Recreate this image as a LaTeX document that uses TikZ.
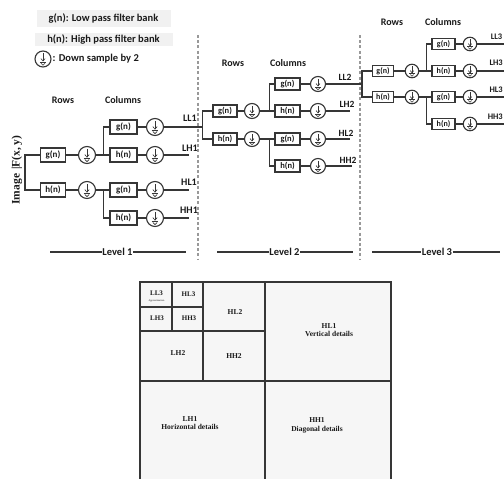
\documentclass[tikz,border=0pt]{standalone}
\usepackage{fontspec}
\setmainfont{Liberation Serif}
\newfontfamily\carl{Carlito}
\usetikzlibrary{calc}
\definecolor{ink}{HTML}{363636}
\definecolor{txt}{HTML}{1A1A1A}
\tikzset{
  ln/.style={draw=ink, line width=1.2pt},
  fb/.style={draw=ink, line width=1.2pt, fill=white, inner sep=0pt, text=txt,
     minimum width=#1, font=\carl\bfseries\fontsize{9}{9}\selectfont},
  fbh/.style={minimum height=#1},
  ds/.style={circle, draw=ink, line width=1.1pt, fill=white, inner sep=0pt, minimum size=#1,
     path picture={\begin{scope}[shift={(path picture bounding box.center)}, x=#1/20, y=-#1/20]
        \draw[line width=0.6pt, ink] (0,-7) -- (0,2.5);
        \draw[line width=0.6pt, ink] (-2.6,-0.5) -- (0,2.5) -- (2.6,-0.5);
        \draw[line width=0.6pt, ink] (-4,3.8) -- (4,3.8);
        \draw[line width=0.55pt, ink] (-2.5,5.3) -- (0,7.8) -- (2.5,5.3);
     \end{scope}}},
  lab/.style={font=\carl\bfseries\fontsize{10}{10}\selectfont, text=txt, inner sep=0pt},
  lab2/.style={font=\carl\bfseries\fontsize{9.5}{9.5}\selectfont, text=txt, inner sep=0pt},
  lab3/.style={font=\carl\bfseries\fontsize{8.5}{8.5}\selectfont, text=txt, inner sep=0pt, anchor=east},
  hdr/.style={font=\carl\bfseries\fontsize{10}{10}\selectfont, text=txt, inner sep=0pt},
  lvl/.style={font=\carl\bfseries\fontsize{10.5}{10.5}\selectfont, text=txt, inner sep=0.5pt},
  sep/.style={draw=gray!80, line width=1.1pt, dash pattern=on 3pt off 2.2pt},
  grid/.style={draw=ink, line width=2pt},
  cell/.style={font=\bfseries\fontsize{7.5}{8.5}\selectfont, text=txt, inner sep=0pt, align=center},
  leg/.style={fill=gray!11, font=\carl\bfseries\fontsize{10.5}{10.5}\selectfont, text=txt, inner sep=0pt},
}
\begin{document}
\begin{tikzpicture}[x=1pt, y=-1pt]
\useasboundingbox (0,0) rectangle (504,479);
\clip (0,0) rectangle (504,479);

% ---------- legend ----------
\node[leg, minimum width=134, minimum height=17] (lg) at (103.5,18.5) {g(n): Low pass filter bank};
\node[leg, minimum width=138, minimum height=13] (lh) at (103.5,39) {h(n): High pass filter bank};
\node[ds=16pt] (lds) at (43,59) {};
\node[lab, anchor=west, font=\carl\bfseries\fontsize{10.5}{10.5}\selectfont] (ldt) at (52.5,59) {: Down sample by 2};

% ---------- separators ----------
\coordinate (sa1) at (198,35); \coordinate (sa2) at (198,260);
\coordinate (sb1) at (360,35); \coordinate (sb2) at (360,260);
\draw[sep] (sa1) -- (sa2);
\draw[sep] (sb1) -- (sb2);

% ---------- level 1 ----------
\node[hdr] (rw1) at (63,100) {Rows};
\node[hdr] (cl1) at (123,100) {Columns};
\node[rotate=90, font=\bfseries\fontsize{11.5}{12}\selectfont, text=txt, inner sep=0pt] (img) at (17,170) {Image\,\,|F(x, y)};

\node[fb=25pt, fbh=14pt] (r1g) at (53,155) {g(n)};
\node[fb=25pt, fbh=14pt] (r1h) at (53,190) {h(n)};
\node[ds=17pt] (r1gd) at (87,155) {};
\node[ds=17pt] (r1hd) at (87,190) {};
\node[fb=27pt, fbh=14pt] (c1gg) at (123.5,127) {g(n)};
\node[fb=27pt, fbh=14pt] (c1gh) at (123.5,155) {h(n)};
\node[fb=27pt, fbh=14pt] (c1hg) at (123.5,190) {g(n)};
\node[fb=27pt, fbh=14pt] (c1hh) at (123.5,218) {h(n)};
\node[ds=17pt] (d1LL) at (155,127) {};
\node[ds=17pt] (d1LH) at (155,155) {};
\node[ds=17pt] (d1HL) at (155,190) {};
\node[ds=17pt] (d1HH) at (155,218) {};

\draw[ln] (r1g.west) -- ++(-15,0) |- (r1h.west);
\draw[ln] (r1g) -- (r1gd);
\draw[ln] (r1h) -- (r1hd);
\draw[ln] (r1gd) -- (c1gh);
\draw[ln] (c1gg.west) -- ++(-6,0) |- (r1gd.east);
\draw[ln] (r1hd) -- (c1hg);
\draw[ln] (c1hh.west) -- ++(-6,0) |- (r1hd.east);
\draw[ln] (c1gg) -- (d1LL);
\draw[ln] (c1gh) -- (d1LH);
\draw[ln] (c1hg) -- (d1HL);
\draw[ln] (c1hh) -- (d1HH);

\coordinate (e1LH) at (189,155);
\coordinate (e1HL) at (189,190);
\coordinate (e1HH) at (189,218);
\draw[ln] (d1LH) -- (e1LH);
\draw[ln] (d1HL) -- (e1HL);
\draw[ln] (d1HH) -- (e1HH);
\node[lab] (t1LL) at (190,118) {LL1};
\node[lab] (t1LH) at (190,148) {LH1};
\node[lab] (t1HL) at (189,182) {HL1};
\node[lab] (t1HH) at (189,210) {HH1};

% ---------- level 2 ----------
\node[hdr] (rw2) at (233,63) {Rows};
\node[hdr] (cl2) at (288,63) {Columns};
\tikzset{fb2/.style={fb=#1, fbh=12pt, font=\carl\bfseries\fontsize{8.5}{8.5}\selectfont}}
\node[fb2=24pt] (r2g) at (225,111) {g(n)};
\node[fb2=24pt] (r2h) at (225,139) {h(n)};
\node[ds=15pt] (r2gd) at (252,111) {};
\node[ds=15pt] (r2hd) at (252,139) {};
\node[fb2=25pt] (c2gg) at (287.5,84) {g(n)};
\node[fb2=25pt] (c2gh) at (287.5,111) {h(n)};
\node[fb2=25pt] (c2hg) at (287.5,139) {g(n)};
\node[fb2=25pt] (c2hh) at (287.5,166) {h(n)};
\node[ds=15pt] (d2LL) at (318,84) {};
\node[ds=15pt] (d2LH) at (318,111) {};
\node[ds=15pt] (d2HL) at (318,139) {};
\node[ds=15pt] (d2HH) at (318,166) {};

\coordinate (s2) at (203,127);
\draw[ln] (d1LL) -- (s2);
\draw[ln] (r2g.west) -- ++(-10,0) |- (r2h.west);
\draw[ln] (r2g) -- (r2gd);
\draw[ln] (r2h) -- (r2hd);
\draw[ln] (r2gd) -- (c2gh);
\draw[ln] (c2gg.west) -- ++(-5,0) |- (r2gd.east);
\draw[ln] (r2hd) -- (c2hg);
\draw[ln] (c2hh.west) -- ++(-5,0) |- (r2hd.east);
\draw[ln] (c2gg) -- (d2LL);
\draw[ln] (c2gh) -- (d2LH);
\draw[ln] (c2hg) -- (d2HL);
\draw[ln] (c2hh) -- (d2HH);

\coordinate (e2LH) at (350,111);
\coordinate (e2HL) at (350,139);
\coordinate (e2HH) at (352,166);
\draw[ln] (d2LH) -- (e2LH);
\draw[ln] (d2HL) -- (e2HL);
\draw[ln] (d2HH) -- (e2HH);
\node[lab2] (t2LL) at (345,77) {LL2};
\node[lab2] (t2LH) at (347,104) {LH2};
\node[lab2] (t2HL) at (346,133) {HL2};
\node[lab2] (t2HH) at (348,160) {HH2};

% ---------- level 3 ----------
\node[hdr] (rw3) at (392,22) {Rows};
\node[hdr] (cl3) at (443,22) {Columns};
\tikzset{fb3/.style={fb=#1, fbh=11.5pt, font=\carl\bfseries\fontsize{8}{8}\selectfont}}
\node[fb3=21pt] (r3g) at (383,71) {g(n)};
\node[fb3=21pt] (r3h) at (383,97) {h(n)};
\node[ds=13.5pt] (r3gd) at (412,71) {};
\node[ds=13.5pt] (r3hd) at (412,97) {};
\node[fb3=23pt] (c3gg) at (443.5,44) {g(n)};
\node[fb3=23pt] (c3gh) at (443.5,71) {h(n)};
\node[fb3=23pt] (c3hg) at (443.5,97) {g(n)};
\node[fb3=23pt] (c3hh) at (443.5,124) {h(n)};
\node[ds=13.5pt] (d3LL) at (470,44) {};
\node[ds=13.5pt] (d3LH) at (470,71) {};
\node[ds=13.5pt] (d3HL) at (470,97) {};
\node[ds=13.5pt] (d3HH) at (470,124) {};

\coordinate (s3) at (363,84);
\draw[ln] (d2LL) -- (s3);
\draw[ln] (r3g.west) -- ++(-10,0) |- (r3h.west);
\draw[ln] (r3g) -- (r3gd);
\draw[ln] (r3h) -- (r3hd);
\draw[ln] (r3gd) -- (c3gh);
\draw[ln] (c3gg.west) -- ++(-5,0) |- (r3gd.east);
\draw[ln] (r3hd) -- (c3hg);
\draw[ln] (c3hh.west) -- ++(-5,0) |- (r3hd.east);
\draw[ln] (c3gg) -- (d3LL);
\draw[ln] (c3gh) -- (d3LH);
\draw[ln] (c3hg) -- (d3HL);
\draw[ln] (c3hh) -- (d3HH);

\coordinate (e3LL) at (506,44);
\coordinate (e3LH) at (506,71);
\coordinate (e3HL) at (506,97);
\coordinate (e3HH) at (506,124);
\draw[ln] (d3LL) -- (e3LL);
\draw[ln] (d3LH) -- (e3LH);
\draw[ln] (d3HL) -- (e3HL);
\draw[ln] (d3HH) -- (e3HH);
\node[lab3] (t3LL) at (502.5,37) {LL3};
\node[lab3] (t3LH) at (503,63) {LH3};
\node[lab3] (t3HL) at (503,90) {HL3};
\node[lab3] (t3HH) at (503,117) {HH3};

% ---------- level bars ----------
\coordinate (l1a) at (50,252); \coordinate (l1b) at (186,252);
\node[lvl] (lv1) at (117.5,252) {Level 1};
\draw[ln] (l1a) -- (lv1) -- (l1b);
\coordinate (l2a) at (217,252); \coordinate (l2b) at (353,252);
\node[lvl] (lv2) at (284.5,252) {Level 2};
\draw[ln] (l2a) -- (lv2) -- (l2b);
\coordinate (l3a) at (372,252); \coordinate (l3b) at (500,252);
\node[lvl] (lv3) at (437,252) {Level 3};
\draw[ln] (l3a) -- (lv3) -- (l3b);

% ---------- subband layout ----------
\fill[gray!7] (140,282) rectangle (391,485);
\draw[grid] (140,485) -- (140,282) -- (391,282) -- (391,485);
\draw[grid] (265,282) -- (265,485);
\draw[grid] (140,381) -- (391,381);
\draw[grid] (203,282) -- (203,381);
\draw[grid] (140,331) -- (265,331);
\draw[grid] (172,282) -- (172,331);
\draw[grid] (140,307) -- (203,307);

\node[cell, font=\bfseries\fontsize{7}{7}\selectfont] (bLL3) at (156.5,293) {LL3};
\node[cell, font=\fontsize{2.6}{3}\selectfont] (bAp) at (156.5,300.5) {Approximation};
\node[cell, font=\bfseries\fontsize{7}{7}\selectfont] (bHL3) at (188.5,294) {HL3};
\node[cell, font=\bfseries\fontsize{7}{7}\selectfont] (bLH3) at (157,318.5) {LH3};
\node[cell, font=\bfseries\fontsize{7}{7}\selectfont] (bHH3) at (189,318.5) {HH3};
\node[cell] (bHL2) at (235,312) {HL2};
\node[cell] (bLH2) at (178,353) {LH2};
\node[cell] (bHH2) at (234,356) {HH2};
\node[cell] (bHL1) at (329,330) {HL1\\Vertical details};
\node[cell] (bLH1) at (190,423) {LH1\\Horizontal details};
\node[cell] (bHH1) at (317,425.5) {HH1\\Diagonal details};
\end{tikzpicture}
\end{document}
